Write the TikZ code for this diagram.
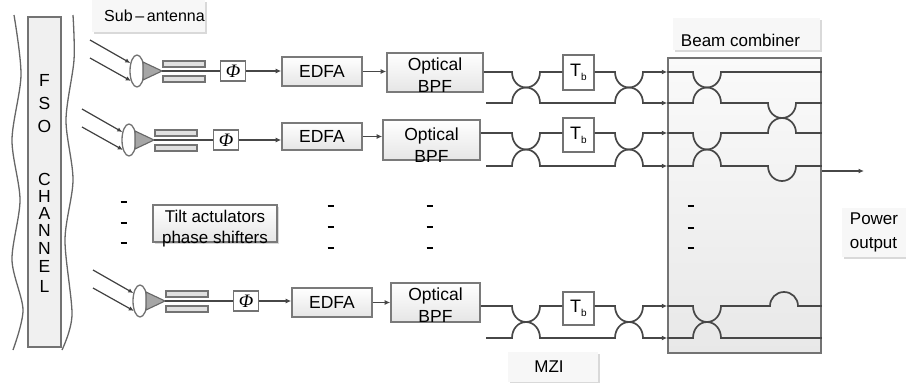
\documentclass[tikz,border=0pt]{standalone}
\usepackage{fontspec}
\setmainfont{Liberation Sans}
\newfontfamily\phifont{Liberation Serif}
\usetikzlibrary{arrows.meta,shadows,shapes.geometric}
\newcommand\cdip[3]{.. controls (#1,{#2+0.55*(#3)}) and ({#1+6},{#2+(#3)}) .. ({#1+14},{#2+(#3)}) .. controls ({#1+22},{#2+(#3)}) and ({#1+28},{#2+0.55*(#3)}) .. ({#1+28},#2)}
\begin{document}
\begin{tikzpicture}[x=1pt,y=-1pt,
  wire/.style={draw=black!72,line width=1.7pt},
  arr/.style={wire,-{Latex[length=5.5pt,width=5pt]}},
  ray/.style={draw=black!75,line width=1.2pt,-{Latex[length=5pt,width=4.5pt]}},
  blk/.style={draw=black!52,line width=1.6pt,top color=white,bottom color=black!10,inner sep=0pt,font=\fontsize{17.5}{22}\selectfont},
  smallbox/.style={draw=black!55,line width=1.4pt,fill=white,inner sep=0pt,font=\fontsize{18}{18}\selectfont},
  tag/.style={fill=black!3,inner sep=0pt,font=\fontsize{17}{22}\selectfont,drop shadow={shadow xshift=1.5pt,shadow yshift=-1.5pt,opacity=0.3}},
  txt/.style={inner sep=0pt,font=\fontsize{17.5}{22}\selectfont,align=center},
  dashmark/.style={draw=black,line width=2pt},
]
\useasboundingbox (0,0) rectangle (906,383);

% FSO channel
\node[draw=black!55,line width=1.3pt,fill=black!6,minimum width=33pt,minimum height=330pt,inner sep=0pt] (fso) at (44.5,182) {};
\draw[black!60,line width=1.3pt] plot[smooth] coordinates {(14,15) (21,75) (12,140) (20,200) (12,260) (23,310) (13,350)};
\draw[black!60,line width=1.3pt] plot[smooth] coordinates {(73,15) (74,60) (66,120) (73,180) (65,240) (72,315) (62,350)};
\foreach \c/\yy [count=\i] in {F/80,S/103,O/126,C/179,H/196,A/213,N/230,N/248,E/266,L/286}
  \node[txt] (fsol\i) at (44.5,\yy) {\c};

% labels
\node[tag,minimum width=113pt,minimum height=32pt,font=\fontsize{16}{16}\selectfont] (sub) at (148.5,16) {\hspace*{12pt}Sub\,–\,antenna};
\node[tag,minimum width=147pt,minimum height=32pt,text height=24pt,text depth=0pt] (bc) at (746.5,34) {Beam combiner\hspace*{12pt}};
\node[tag,minimum width=90pt,minimum height=30pt] (mzi) at (553,367) {MZI\hspace*{8pt}};
\node[tag,minimum width=64pt,minimum height=49pt,align=left,font=\fontsize{17}{24}\selectfont] (pwr) at (874,232.5) {Power\\output};

% antenna front ends
\foreach \rw/\sx/\sy/\px in {1/0/0/233, 2/-8/69/234, 3/3/230/243}{
 \begin{scope}[shift={(\sx,\sy)}]
  \coordinate (srca\rw) at (90,40);
  \coordinate (srcb\rw) at (90,58);
  \coordinate (tip\rw) at (162,71);
  \node[ellipse,draw=black!55,line width=1.3pt,fill=white,minimum width=14pt,minimum height=32pt,inner sep=0pt] (lens\rw) at (137,71) {};
  \draw[ray] (srca\rw) -- (lens\rw.130);
  \draw[ray] (srcb\rw) -- (lens\rw.238);
  \draw[black!60,line width=1.1pt,fill=black!35] (143,62) -- (tip\rw) -- (143,80) -- cycle;
  \node[smallbox,minimum width=25pt,minimum height=20pt] (phi\rw) at (\px,71) {\phifont\itshape\fontsize{19}{19}\selectfont Φ};
  \draw[wire] (tip\rw) -- (phi\rw.west);
  \node[draw=black!55,line width=1.1pt,fill=black!12,minimum width=42pt,minimum height=6pt,inner sep=0pt] (fbt\rw) at (184,64) {};
  \node[draw=black!55,line width=1.1pt,fill=black!12,minimum width=42pt,minimum height=6pt,inner sep=0pt] (fbb\rw) at (184,79) {};
 \end{scope}
}

% EDFA and BPF
\node[blk,minimum width=80pt,minimum height=29pt] (edfa1) at (322,71.5) {EDFA};
\node[blk,minimum width=80pt,minimum height=27pt] (edfa2) at (322,136.5) {EDFA};
\node[blk,minimum width=80pt,minimum height=29pt] (edfa3) at (332,302.5) {EDFA};
\node[blk,minimum width=96pt,minimum height=39pt] (bpf1) at (435,72.5) {};
\node[blk,minimum width=97pt,minimum height=40pt] (bpf2) at (431.5,140) {};
\node[blk,minimum width=89pt,minimum height=39pt] (bpf3) at (435.5,302.5) {};
\node[txt] (bpft1) at (435,75) {Optical\\BPF};
\node[txt] (bpft2) at (431.5,145) {Optical\\BPF};
\node[txt] (bpft3) at (435.5,305.5) {Optical\\BPF};
\foreach \rw in {1,2,3}{
  \draw[arr] (phi\rw.east) -- (phi\rw.east -| edfa\rw.west);
  \draw[arr] (edfa\rw.east) -- (edfa\rw.east -| bpf\rw.west);
}

% T_b delays
\node[smallbox,minimum width=31pt,minimum height=35pt] (tb1) at (578.5,72.5) {T\raisebox{-4pt}{\fontsize{10}{10}\selectfont b}};
\node[smallbox,minimum width=31pt,minimum height=34pt] (tb2) at (578.5,135) {T\raisebox{-4pt}{\fontsize{10}{10}\selectfont b}};
\node[smallbox,minimum width=31pt,minimum height=33pt] (tb3) at (578.5,308.5) {T\raisebox{-4pt}{\fontsize{10}{10}\selectfont b}};

% beam combiner
\node[draw=black!55,line width=1.5pt,top color=black!2,bottom color=black!9,minimum width=153pt,minimum height=295pt,inner sep=0pt] (comb) at (744.5,205.5) {};

% MZI lines
\foreach \rw/\yt/\yb in {1/72/103, 2/133/166, 3/306/338}{
  \pgfmathsetmacro\hd{(\yb-\yt)/2}
  \coordinate (ht\rw) at (0,\yt);
  \coordinate (hb\rw) at (0,\yb);
  \coordinate (bs\rw) at (486,\yb);
  \draw[wire] (bpf\rw.east |- ht\rw) -- (512,\yt) \cdip{512}{\yt}{\hd} -- (tb\rw.west |- ht\rw);
  \draw[arr] (tb\rw.east |- ht\rw) -- (615,\yt) \cdip{615}{\yt}{\hd} -- (comb.west |- ht\rw);
  \draw[arr] (bs\rw) -- (512,\yb) \cdip{512}{\yb}{-\hd} -- (615,\yb) \cdip{615}{\yb}{-\hd} -- (comb.west |- hb\rw);
}

% combiner internal couplers
\draw[wire] (comb.west |- ht1) -- (693,72) \cdip{693}{72}{15.5} -- (comb.east |- ht1);
\draw[wire] (comb.west |- hb1) -- (693,103) \cdip{693}{103}{-15.5} -- (768,103) \cdip{768}{103}{15} -- (comb.east |- hb1);
\draw[wire] (comb.west |- ht2) -- (693,133) \cdip{693}{133}{16.5} -- (768,133) \cdip{768}{133}{-15} -- (comb.east |- ht2);
\draw[wire] (comb.west |- hb2) -- (693,166) \cdip{693}{166}{-16.5} -- (768,166) \cdip{768}{166}{15} -- (comb.east |- hb2);
\draw[wire] (comb.west |- ht3) -- (693,306) \cdip{693}{306}{16} -- (770,306) \cdip{770}{306}{-14} -- (comb.east |- ht3);
\draw[wire] (comb.west |- hb3) -- (693,338) \cdip{693}{338}{-16} -- (comb.east |- hb3);

% output
\coordinate (ho) at (0,171);
\coordinate (pout) at (864,171);
\draw[arr] (comb.east |- ho) -- (pout);

% ellipsis dashes
\foreach \x/\ya/\yb/\yc in {123.5/202/223/243, 330.5/206/227/248, 429.5/206/227/248, 690.5/206/228/248}{
  \draw[dashmark] ({\x-3},\ya) -- ({\x+3},\ya);
  \draw[dashmark] ({\x-3},\yb) -- ({\x+3},\yb);
  \draw[dashmark] ({\x-3},\yc) -- ({\x+3},\yc);
}

% tilt actuators
\node[blk,minimum width=124pt,minimum height=37pt,drop shadow={shadow xshift=1.5pt,shadow yshift=-1.5pt,opacity=0.3}] (tilt) at (215,223.5) {};
\node[txt,font=\fontsize{17}{21}\selectfont] (tiltt) at (215,228.5) {Tilt actulators\\phase shifters};
\end{tikzpicture}
\end{document}
